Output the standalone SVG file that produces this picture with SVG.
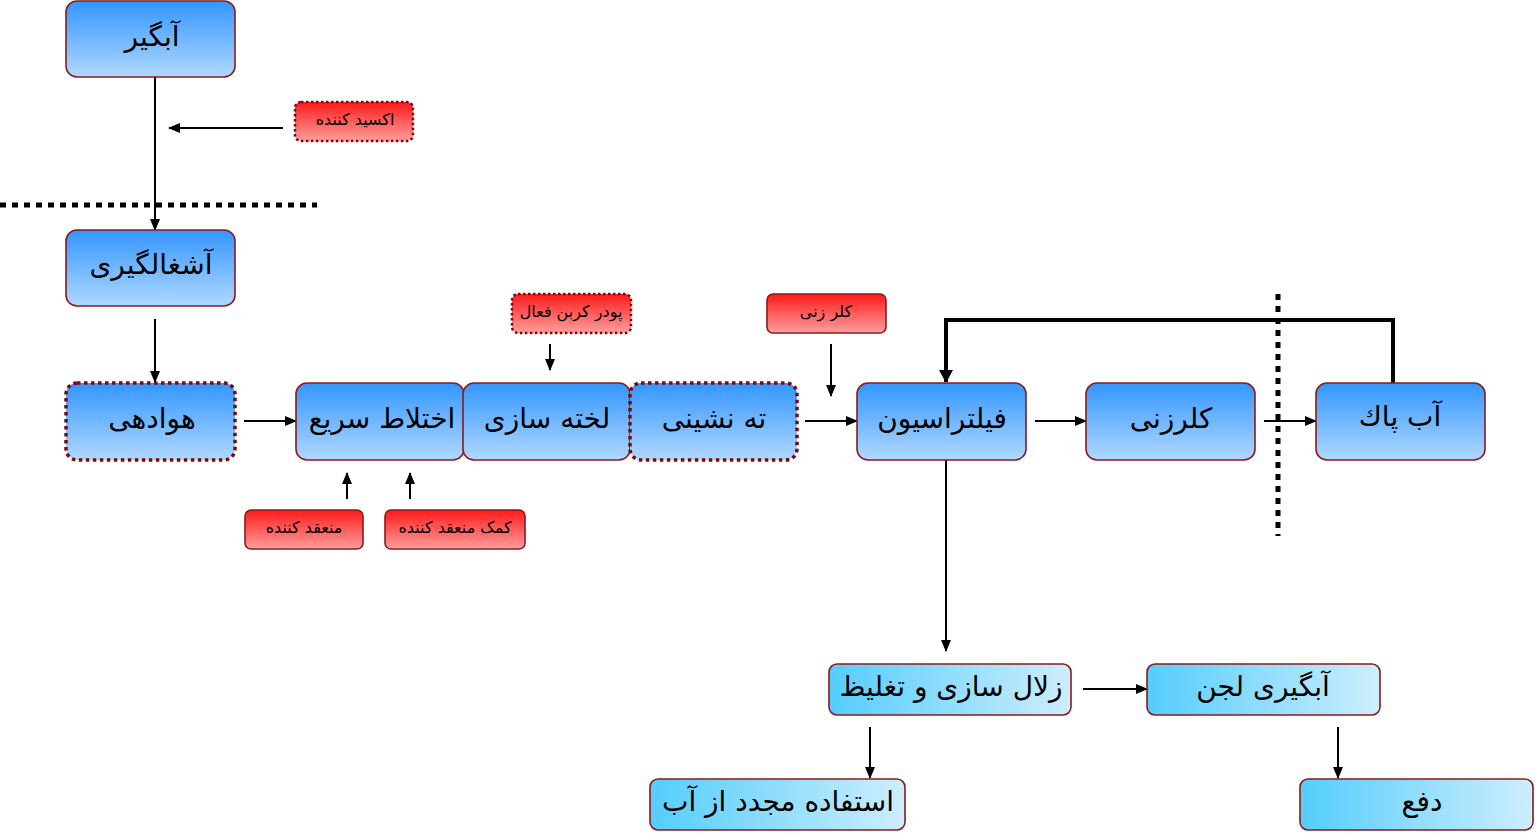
<svg xmlns="http://www.w3.org/2000/svg" width="1536" height="833" viewBox="0 0 1536 833">
<defs>
<linearGradient id="gBlue" x1="0" y1="0" x2="0" y2="1"><stop offset="0" stop-color="#3396ff"/><stop offset="1" stop-color="#b0d8ff"/></linearGradient>
<linearGradient id="gRed" x1="0" y1="0" x2="0" y2="1"><stop offset="0" stop-color="#ff1a1a"/><stop offset="1" stop-color="#ff9e9e"/></linearGradient>
<linearGradient id="gCyan" x1="0" y1="0" x2="1" y2="0"><stop offset="0" stop-color="#55cdfc"/><stop offset="1" stop-color="#cdeefd"/></linearGradient>
<marker id="ah" markerWidth="12" markerHeight="12" refX="11" refY="6" orient="auto" markerUnits="userSpaceOnUse"><path d="M0,1 L12,6 L0,11 Z" fill="#000"/></marker>
<marker id="ahB" markerWidth="13" markerHeight="14" refX="12" refY="7" orient="auto" markerUnits="userSpaceOnUse"><path d="M0,0 L13,7 L0,14 Z" fill="#000"/></marker>
</defs>
<style>
.blue{fill:url(#gBlue);stroke:#8b1a1a;stroke-width:1.6}
.red{fill:url(#gRed);stroke:#8b1a1a;stroke-width:1.6}
.cyan{fill:url(#gCyan);stroke:#8b1a1a;stroke-width:1.6}
.dot{stroke:#7a0a0a;stroke-width:3.5;stroke-dasharray:3.5 3.5}
.dots{stroke:#7a0a0a;stroke-width:2.5;stroke-dasharray:2.5 2.5}
.big{font-family:"DejaVu Sans","Noto Sans",sans-serif;font-size:28px;fill:#000;text-anchor:middle;dominant-baseline:middle}
.sm{font-family:"DejaVu Sans","Noto Sans",sans-serif;font-size:16px;fill:#000;text-anchor:middle;dominant-baseline:middle}
.ln{stroke:#000;stroke-width:2;fill:none}
.lnB{stroke:#000;stroke-width:4;fill:none}
.sep{stroke:#000;stroke-width:5;stroke-dasharray:6 6;fill:none}
</style>
<g id="connectors">
<line class="ln" x1="155" y1="77" x2="155" y2="230" marker-end="url(#ah)"/>
<line class="ln" x1="283" y1="128" x2="169" y2="128" marker-end="url(#ah)"/>
<line class="sep" x1="0" y1="205" x2="317" y2="205"/>
<line class="ln" x1="155" y1="319" x2="155" y2="382" marker-end="url(#ah)"/>
<line class="ln" x1="244" y1="421" x2="296" y2="421" marker-end="url(#ah)"/>
<line class="ln" x1="805" y1="421" x2="857" y2="421" marker-end="url(#ah)"/>
<line class="ln" x1="1035" y1="421" x2="1086" y2="421" marker-end="url(#ah)"/>
<line class="ln" x1="1264" y1="421" x2="1316" y2="421" marker-end="url(#ah)"/>
<polyline class="lnB" points="1393,383 1393,320 946,320 946,382" marker-end="url(#ahB)"/>
<line class="sep" x1="1278" y1="294" x2="1278" y2="536"/>
<line class="ln" x1="550" y1="344" x2="550" y2="370" marker-end="url(#ah)"/>
<line class="ln" x1="831" y1="344" x2="831" y2="396" marker-end="url(#ah)"/>
<line class="ln" x1="347" y1="499" x2="347" y2="473" marker-end="url(#ah)"/>
<line class="ln" x1="410" y1="499" x2="410" y2="473" marker-end="url(#ah)"/>
<line class="ln" x1="946" y1="460" x2="946" y2="651" marker-end="url(#ah)"/>
<line class="ln" x1="1083" y1="689" x2="1147" y2="689" marker-end="url(#ah)"/>
<line class="ln" x1="870" y1="727" x2="870" y2="778" marker-end="url(#ah)"/>
<line class="ln" x1="1338" y1="727" x2="1338" y2="778" marker-end="url(#ah)"/>
</g>
<g id="n-abgir"><rect class="blue" x="66" y="1" width="169" height="76" rx="11"/><text class="big" x="152" y="38">آبگیر</text></g>
<g id="n-oxid"><rect class="red dots" x="295" y="102" width="118" height="39" rx="6"/><text class="sm" x="355" y="120">اکسید کننده</text></g>
<g id="n-ashghal"><rect class="blue" x="66" y="230" width="169" height="76" rx="11"/><text class="big" x="151" y="266">آشغالگیری</text></g>
<g id="n-havadehi"><rect class="blue dot" x="66" y="383" width="169" height="77" rx="11"/><text class="big" x="152" y="420">هوادهی</text></g>
<g id="n-ekhtelat"><rect class="blue" x="296" y="383" width="168" height="77" rx="11"/><text class="big" x="382" y="420">اختلاط سریع</text></g>
<g id="n-lakhte"><rect class="blue" x="463" y="383" width="167" height="77" rx="11"/><text class="big" x="547" y="420">لخته سازی</text></g>
<g id="n-tahneshini"><rect class="blue dot" x="630" y="383" width="167" height="77" rx="11"/><text class="big" x="714" y="420">ته نشینی</text></g>
<g id="n-filtr"><rect class="blue" x="857" y="383" width="169" height="77" rx="11"/><text class="big" x="942" y="420">فیلتراسیون</text></g>
<g id="n-kolorzani"><rect class="blue" x="1086" y="383" width="169" height="77" rx="11"/><text class="big" x="1171" y="420">کلرزنی</text></g>
<g id="n-abpak"><rect class="blue" x="1316" y="383" width="169" height="77" rx="11"/><text class="big" x="1400" y="418">آب پاك</text></g>
<g id="n-podr"><rect class="red dots" x="512" y="294" width="119" height="39" rx="6"/><text class="sm" x="571" y="312">پودر کربن فعال</text></g>
<g id="n-kolr"><rect class="red" x="767" y="294" width="119" height="39" rx="6"/><text class="sm" x="826" y="312">کلر زنی</text></g>
<g id="n-monagh"><rect class="red" x="245" y="510" width="118" height="39" rx="6"/><text class="sm" x="304" y="528">منعقد کننده</text></g>
<g id="n-komak"><rect class="red" x="385" y="510" width="140" height="39" rx="6"/><text class="sm" x="455" y="528">کمک منعقد کننده</text></g>
<g id="n-zolal"><rect class="cyan" x="829" y="664" width="242" height="51" rx="8"/><text class="big" x="951" y="688">زلال سازی و تغلیظ</text></g>
<g id="n-lajan"><rect class="cyan" x="1147" y="664" width="233" height="51" rx="8"/><text class="big" x="1263" y="688">آبگیری لجن</text></g>
<g id="n-estefade"><rect class="cyan" x="650" y="779" width="255" height="51" rx="8"/><text class="big" x="778" y="803">استفاده مجدد از آب</text></g>
<g id="n-dafe"><rect class="cyan" x="1300" y="779" width="233" height="51" rx="8"/><text class="big" x="1422" y="803">دفع</text></g>
</svg>
